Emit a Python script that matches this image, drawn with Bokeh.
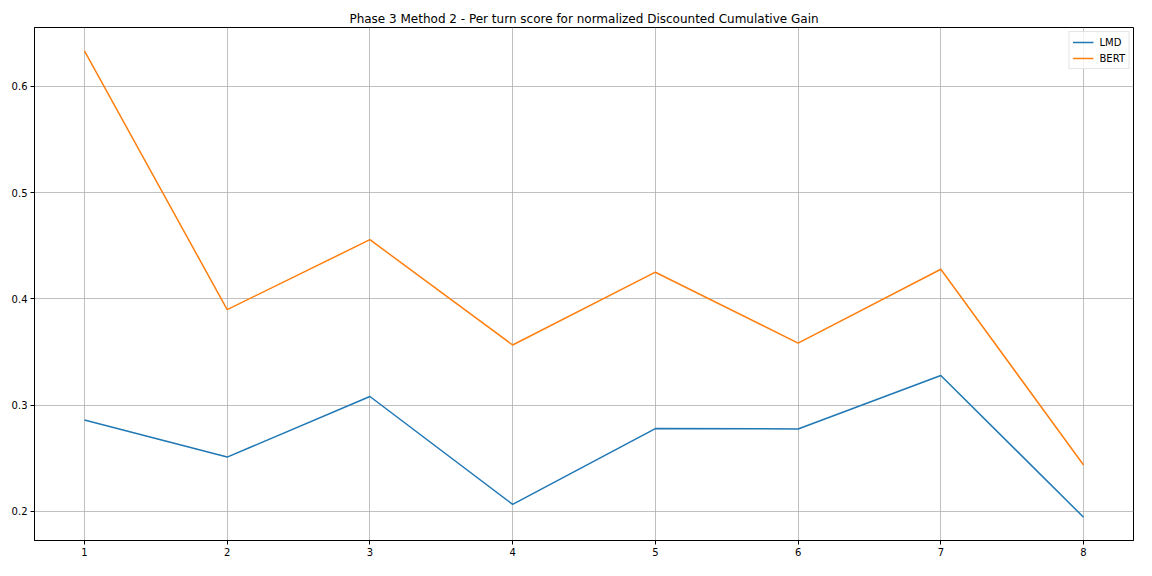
from bokeh.plotting import figure
from bokeh.embed import file_html
from bokeh.resources import INLINE
from bokeh.models import Range1d, FixedTicker, Legend, LegendItem

turns = [1, 2, 3, 4, 5, 6, 7, 8]
lmd = [0.286, 0.251, 0.308, 0.2065, 0.2778, 0.2775, 0.3278, 0.1944]
bert = [0.6333, 0.3898, 0.4556, 0.3565, 0.425, 0.3583, 0.4278, 0.2435]
x_ticks = [1, 2, 3, 4, 5, 6, 7, 8]
y_ticks = [0.2, 0.3, 0.4, 0.5, 0.6]

FONT = "DejaVu Sans"

p = figure(width=1136, height=560, output_backend="svg", toolbar_location=None,
           x_range=Range1d(0.65, 8.35), y_range=Range1d(0.1725, 0.6553),
           min_border_left=34, min_border_right=3, min_border_top=27, min_border_bottom=20)

p.title.text = "Phase 3 Method 2 - Per turn score for normalized Discounted Cumulative Gain"
p.title.align = "center"
p.title.text_font = FONT
p.title.text_font_size = "12px"
p.title.text_font_style = "normal"
p.title.text_color = "black"
p.title.standoff = 3

l1 = p.line(turns, lmd, line_color="#1f77b4", line_width=1.5)
l2 = p.line(turns, bert, line_color="#ff7f0e", line_width=1.5)

p.xaxis.ticker = FixedTicker(ticks=x_ticks)
p.yaxis.ticker = FixedTicker(ticks=y_ticks)
for ax in (p.xaxis[0], p.yaxis[0]):
    ax.major_label_text_font = FONT
    ax.major_label_text_font_size = "10px"
    ax.major_label_text_color = "black"
    ax.major_tick_out = 4
    ax.major_tick_in = 0
    ax.minor_tick_out = 0
    ax.minor_tick_in = 0
    ax.axis_line_color = "black"
    ax.major_tick_line_color = "black"
    ax.major_label_standoff = 3

p.xgrid.grid_line_color = "#b0b0b0"
p.ygrid.grid_line_color = "#b0b0b0"
p.xgrid.grid_line_width = 0.8
p.ygrid.grid_line_width = 0.8
p.outline_line_color = "black"
p.outline_line_width = 1

legend = Legend(items=[LegendItem(label="LMD", renderers=[l1]),
                       LegendItem(label="BERT", renderers=[l2])],
                location="top_right")
legend.label_text_font = FONT
legend.label_text_font_size = "10px"
legend.label_text_color = "black"
legend.border_line_color = "#cccccc"
legend.border_line_width = 1
legend.background_fill_alpha = 0.8
legend.glyph_width = 21
legend.glyph_height = 14
legend.label_height = 14
legend.spacing = 2
legend.padding = 3
legend.margin = 4
legend.label_standoff = 6
p.add_layout(legend)

open("out.html", "w").write(file_html(p, INLINE))
